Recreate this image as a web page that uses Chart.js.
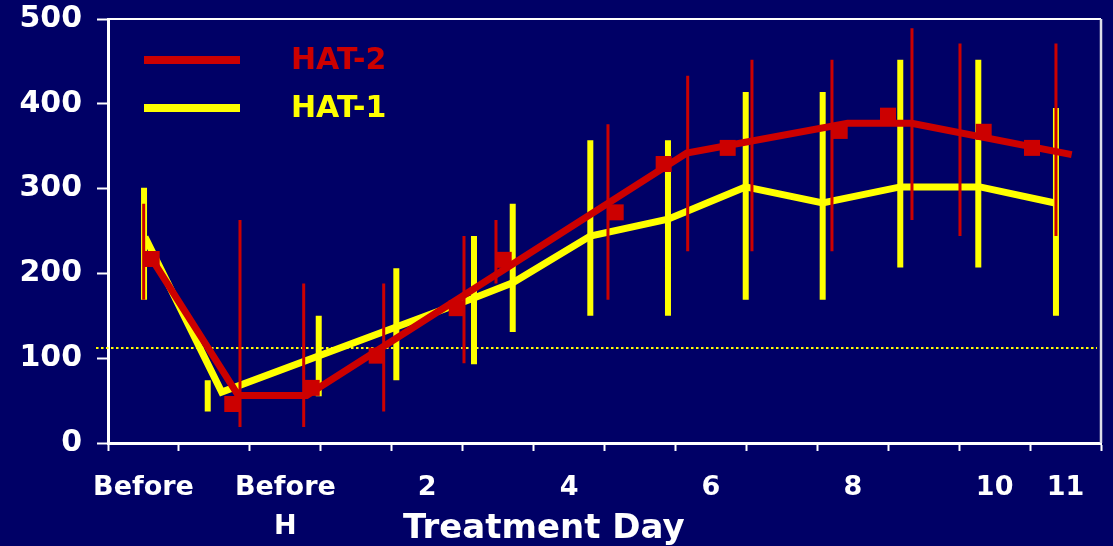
<!DOCTYPE html>
<html>
<head>
<meta charset="utf-8">
<script src="https://cdn.jsdelivr.net/npm/chart.js@4.4.1/dist/chart.umd.min.js"></script>
<style>
  html, body { margin: 0; padding: 0; background: #000066; }
  #c { display: block; }
</style>
</head>
<body>
<canvas id="c" width="1113" height="546"></canvas>
<script>
// ---------------- data ----------------
const xCategories = ['Before', '', ['Before', 'H'], '', '2', '', '4', '', '6', '', '8', '', '10', '11'];
const yTicks = [0, 100, 200, 300, 400, 500];
const seriesNames = ['HAT-2', 'HAT-1'];

// HAT-2 (red): smoothed trend line
const hat2LineX = [0.616, 1.837, 2.801, 8.159, 10.428, 11.331, 13.587];
const hat2LineY = [217, 56, 56, 342, 377, 377, 340];
// HAT-2 square markers
const hat2PointX = [0.616, 1.752, 2.872, 3.788, 4.916, 5.579, 7.158, 7.834, 8.737, 10.316, 10.997, 12.346, 13.027];
const hat2PointY = [217, 46, 65, 103, 159, 216, 272, 329, 348, 368, 386, 367, 348];
// HAT-2 error bars
const hat2ErrX = [0.503, 1.861, 2.759, 3.887, 5.019, 5.470, 7.049, 8.173, 9.079, 10.207, 11.335, 12.012, 13.365];
const hat2ErrLow = [169, 19, 19, 37, 94, 188, 169, 226, 226, 226, 263, 244, 244];
const hat2ErrHigh = [282, 263, 188, 188, 244, 263, 376, 433, 452, 452, 489, 471, 471];

// HAT-1 (yellow): line
const hat1LineX = [0.522, 1.603, 5.160, 5.706, 6.800, 7.895, 8.988, 10.076, 11.170, 12.294, 13.351];
const hat1LineY = [243, 60, 171, 189, 244, 264, 302, 283, 302, 302, 283];
// HAT-1 error bars
const hat1ErrX = [0.508, 1.406, 2.971, 4.065, 5.160, 5.706, 6.800, 7.895, 8.991, 10.076, 11.170, 12.270, 13.365];
const hat1ErrLow = [169, 37, 55, 74, 93, 131, 150, 150, 169, 169, 207, 207, 150];
const hat1ErrHigh = [301, 74, 150, 206, 244, 282, 357, 357, 414, 414, 452, 452, 395];

// dotted reference level
const refLevel = 112;
const refSpan = [-0.169, 13.944];

const xAxisTitle = 'Treatment Day';

// ---------------- helpers ----------------
const RED = '#CC0000';
const YELLOW = '#FFFF00';
const NAVY = '#000066';
const FONT = "'DejaVu Sans', 'Verdana', sans-serif";

function pts(xs, ys) { return xs.map((x, i) => ({ x: x, y: ys[i] })); }
function errSegments(xs, lo, hi) {
  const out = [];
  xs.forEach((x, i) => {
    out.push({ x: x, y: lo[i] });
    out.push({ x: x, y: hi[i] });
    out.push({ x: x, y: null });
  });
  return out;
}

const framePlugin = {
  id: 'frame',
  beforeDraw(chart) {
    const ctx = chart.ctx;
    ctx.save();
    ctx.fillStyle = NAVY;
    ctx.fillRect(0, 0, chart.width, chart.height);
    ctx.restore();
  },
  beforeDatasetsDraw(chart) {
    const { ctx, chartArea: a } = chart;
    ctx.save();
    ctx.strokeStyle = '#ffffff';
    ctx.lineWidth = 2;
    ctx.beginPath();
    ctx.moveTo(a.left, a.top);
    ctx.lineTo(a.right, a.top);
    ctx.stroke();
    ctx.strokeStyle = '#dcdce8';
    ctx.lineWidth = 2.5;
    ctx.beginPath();
    ctx.moveTo(a.right, a.top);
    ctx.lineTo(a.right, a.bottom);
    ctx.stroke();
    ctx.restore();
  },
  afterDraw(chart) {
    const ctx = chart.ctx;
    ctx.save();
    // legend
    ctx.lineCap = 'butt';
    ctx.lineWidth = 8;
    ctx.strokeStyle = RED;
    ctx.beginPath(); ctx.moveTo(144, 60); ctx.lineTo(240, 60); ctx.stroke();
    ctx.strokeStyle = YELLOW;
    ctx.beginPath(); ctx.moveTo(144, 108); ctx.lineTo(240, 108); ctx.stroke();
    ctx.font = 'bold 30px ' + FONT;
    ctx.textAlign = 'left';
    ctx.textBaseline = 'alphabetic';
    ctx.fillStyle = RED;
    ctx.fillText(seriesNames[0], 291, 69);
    ctx.fillStyle = YELLOW;
    ctx.fillText(seriesNames[1], 291, 117);
    // axis title
    ctx.fillStyle = '#ffffff';
    ctx.font = 'bold 34px ' + FONT;
    ctx.fillText(xAxisTitle, 403, 538);
    ctx.restore();
  }
};

const ctx = document.getElementById('c').getContext('2d');
new Chart(ctx, {
  type: 'line',
  data: {
    datasets: [
      {
        label: seriesNames[0] + ' markers',
        data: pts(hat2PointX, hat2PointY),
        showLine: false,
        pointStyle: 'rect',
        pointRadius: 11.3,
        pointBorderWidth: 0,
        pointBackgroundColor: RED,
        pointBorderColor: RED,
        order: 0
      },
      {
        label: seriesNames[0],
        data: pts(hat2LineX, hat2LineY),
        borderColor: RED,
        borderWidth: 7,
        pointRadius: 0,
        tension: 0,
        order: 1
      },
      {
        label: seriesNames[0] + ' error',
        data: errSegments(hat2ErrX, hat2ErrLow, hat2ErrHigh),
        borderColor: RED,
        borderWidth: 3,
        borderCapStyle: 'butt',
        pointRadius: 0,
        spanGaps: false,
        order: 2
      },
      {
        label: seriesNames[1] + ' error',
        data: errSegments(hat1ErrX, hat1ErrLow, hat1ErrHigh),
        borderColor: YELLOW,
        borderWidth: 6,
        borderCapStyle: 'butt',
        pointRadius: 0,
        spanGaps: false,
        order: 3
      },
      {
        label: seriesNames[1],
        data: pts(hat1LineX, hat1LineY),
        borderColor: YELLOW,
        borderWidth: 7,
        pointRadius: 0,
        tension: 0,
        order: 4
      },
      {
        label: 'reference',
        data: refSpan.map(x => ({ x: x, y: refLevel })),
        borderColor: YELLOW,
        borderWidth: 2,
        borderDash: [2.5, 2.5],
        pointRadius: 0,
        clip: false,
        order: 5
      }
    ]
  },
  options: {
    responsive: false,
    animation: false,
    events: [],
    layout: { padding: { top: 19, right: 12, left: 0, bottom: 0 } },
    plugins: {
      legend: { display: false },
      tooltip: { enabled: false },
      title: { display: false }
    },
    scales: {
      x: {
        type: 'linear',
        min: 0,
        max: 14,
        ticks: {
          stepSize: 1,
          autoSkip: false,
          maxRotation: 0,
          labelOffset: 35.5,
          padding: 18,
          color: '#ffffff',
          font: { family: FONT, weight: 'bold', size: 27, lineHeight: 1.44 },
          callback: (v, i) => (i < xCategories.length ? xCategories[i] : '')
        },
        grid: { drawOnChartArea: false, drawTicks: true, tickLength: 8, tickColor: '#ffffff', tickWidth: 2 },
        border: { display: true, color: '#ffffff', width: 3 },
        afterFit(s) { s.height = 103; s.paddingLeft = 0; s.paddingRight = 0; }
      },
      y: {
        type: 'linear',
        min: 0,
        max: 500,
        afterBuildTicks(s) { s.ticks = yTicks.map(v => ({ value: v })); },
        ticks: {
          padding: 15,
          color: '#ffffff',
          font: { family: FONT, weight: 'bold', size: 30 }
        },
        grid: { drawOnChartArea: false, drawTicks: true, tickLength: 11, tickColor: '#ffffff', tickWidth: 2 },
        border: { display: true, color: '#ffffff', width: 3 },
        afterFit(s) { s.width = 108; s.paddingTop = 0; s.paddingBottom = 0; }
      }
    }
  },
  plugins: [framePlugin]
});
</script>
</body>
</html>
